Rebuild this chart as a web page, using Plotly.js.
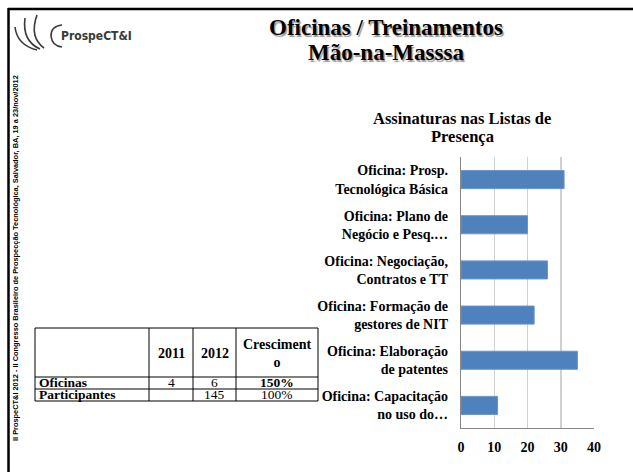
<!DOCTYPE html>
<html>
<head>
<meta charset="utf-8">
<script src="https://cdn.plot.ly/plotly-3.0.1.min.js"></script>
<style>
html,body{margin:0;padding:0;background:#fff;}
#chart{width:633px;height:472px;}
</style>
</head>
<body>
<div id="chart"></div>
<script>
// ---- data ----
const categories = [
  'Oficina: Prosp.<br>Tecnológica Básica',
  'Oficina: Plano de<br>Negócio e Pesq.…',
  'Oficina: Negociação,<br>Contratos e TT',
  'Oficina: Formação de<br>gestores de NIT',
  'Oficina: Elaboração<br>de patentes',
  'Oficina: Capacitação<br>no uso do…'
];
const values = [31, 20, 26, 22, 35, 11];
const xTickValues = [0, 10, 20, 30, 40];

const tableHeader = ['', '2011', '2012', 'Cresciment<br>o'];
const tableRowLabels = ['Oficinas', 'Participantes'];
const col2011 = ['4', ''];
const col2012 = ['6', '145'];
const colGrowth = ['<b>150%</b>', '100%'];

const mainTitle = ['Oficinas / Treinamentos', 'Mão-na-Masssa'];
const chartTitle = ['Assinaturas nas Listas de', 'Presença'];
const sideText = 'II ProspeCT&I 2012 - II Congresso Brasileiro de Prospecção Tecnológica, Salvador, BA, 19 a 23/nov/2012';
const logoText = 'ProspeCT&I';

// ---- layout helpers (pixel -> paper) ----
const W = 633, H = 472;
const px = x => x / W;
const py = y => 1 - y / H;
const serif = 'Liberation Serif, Times New Roman, serif';

const shapes = [];
const annotations = [];

// slide frame
shapes.push({type:'line', xref:'paper', yref:'paper', x0:px(8), x1:px(633), y0:py(9), y1:py(9), line:{color:'#000', width:2.5}});
shapes.push({type:'line', xref:'paper', yref:'paper', x0:px(8.5), x1:px(8.5), y0:py(8), y1:py(472), line:{color:'#000', width:2.5}});

// logo (arcs)
function pth(d){
  return d.replace(/(-?\d+(\.\d+)?),(-?\d+(\.\d+)?)/g, (m, a, b, c, e) => px(+a) + ',' + py(+c));
}
const logoPaths = [
  'M15,27 Q17,45 37,50',
  'M25,18 Q22,41 40,49',
  'M37,15 Q29,37 44,48',
  'M62,25 Q51,26 51,36 Q52,46 62,47'
];
logoPaths.forEach(d => shapes.push({type:'path', xref:'paper', yref:'paper', path:pth(d), line:{color:'#3a3a3a', width:1.6}}));
annotations.push({xref:'paper', yref:'paper', x:px(59), y:py(36), xanchor:'left', yanchor:'middle', showarrow:false,
  text:'<b>'+logoText+'</b>', font:{family:'DejaVu Sans Condensed, Liberation Sans Narrow, Arial Narrow, sans-serif', size:12, color:'#3a3a3a'}});

// side vertical text
annotations.push({xref:'paper', yref:'paper', x:px(15), y:py(258), xanchor:'center', yanchor:'middle', showarrow:false,
  textangle:-90, text:'<b>'+sideText+'</b>', font:{family:'Liberation Sans, Arial, sans-serif', size:7.4, color:'#000'}});

// main title
[[mainTitle[0], 28], [mainTitle[1], 52]].forEach(([t, y]) => {
  annotations.push({xref:'paper', yref:'paper', x:px(386), y:py(y), xanchor:'center', yanchor:'middle', showarrow:false,
    text:'<b>'+t+'</b>', font:{family:serif, size:23, color:'#000', shadow:'1.5px 1.5px 1px #9a9a9a'}});
});

// chart title
[[chartTitle[0], 118], [chartTitle[1], 136]].forEach(([t, y]) => {
  annotations.push({xref:'paper', yref:'paper', x:px(462), y:py(y), xanchor:'center', yanchor:'middle', showarrow:false,
    text:'<b>'+t+'</b>', font:{family:serif, size:16.5, color:'#000'}});
});

// table
const colEdges = [35, 149, 193, 236, 318];
const rowEdges = [328, 377, 389, 401];
colEdges.forEach(x => shapes.push({type:'line', xref:'paper', yref:'paper', x0:px(x), x1:px(x), y0:py(rowEdges[0]), y1:py(rowEdges[rowEdges.length-1]), line:{color:'#000', width:1}}));
rowEdges.forEach(y => shapes.push({type:'line', xref:'paper', yref:'paper', x0:px(colEdges[0]), x1:px(colEdges[colEdges.length-1]), y0:py(y), y1:py(y), line:{color:'#000', width:1}}));
const hfont = {family:serif, size:14, color:'#000'};
const tfont = {family:serif, size:13.5, color:'#000'};
const colCenter = i => (colEdges[i] + colEdges[i+1]) / 2;
tableHeader.forEach((t, i) => {
  if (!t) return;
  annotations.push({xref:'paper', yref:'paper', x:px(colCenter(i)), y:py((rowEdges[0]+rowEdges[1])/2 + 1), xanchor:'center', yanchor:'middle',
    showarrow:false, text:'<b>'+t+'</b>', font:hfont});
});
const bodyCols = [col2011, col2012, colGrowth];
tableRowLabels.forEach((lab, r) => {
  const yc = (rowEdges[r+1] + rowEdges[r+2]) / 2 - 0.5;
  annotations.push({xref:'paper', yref:'paper', x:px(colEdges[0] + 2), y:py(yc), xanchor:'left', yanchor:'middle',
    showarrow:false, text:'<b>'+lab+'</b>', font:tfont});
  bodyCols.forEach((col, c) => {
    if (!col[r]) return;
    annotations.push({xref:'paper', yref:'paper', x:px(colCenter(c+1)), y:py(yc), xanchor:'center', yanchor:'middle',
      showarrow:false, text:col[r], font:tfont});
  });
});

const trace = {
  type:'bar', orientation:'h', x:values, y:categories,
  marker:{color:'#4F81BD', line:{color:'#6a94c9', width:1}},
  hoverinfo:'none'
};

const layout = {
  width:W, height:H,
  margin:{l:0, r:0, t:0, b:0},
  paper_bgcolor:'#fff', plot_bgcolor:'#fff',
  showlegend:false,
  bargap:0.6,
  xaxis:{
    domain:[px(461), px(594)], range:[0, 40], tickvals:xTickValues,
    showgrid:true, gridcolor:'#d0d0d0', gridwidth:1.5,
    showline:true, linecolor:'#868686', linewidth:1.2,
    zeroline:false, ticks:'', ticklabelstandoff:6,
    tickfont:{family:serif, size:14, color:'#000', weight:'bold'},
    fixedrange:true
  },
  yaxis:{
    domain:[py(428), py(157)], type:'category', autorange:'reversed',
    showgrid:false, showline:true, linecolor:'#868686', linewidth:1.2,
    zeroline:false, ticks:'', ticklabelstandoff:9,
    tickfont:{family:serif, size:14, color:'#000', weight:'bold'},
    fixedrange:true
  },
  shapes:shapes,
  annotations:annotations
};

Plotly.newPlot('chart', [trace], layout, {displayModeBar:false, staticPlot:true});
</script>
</body>
</html>
